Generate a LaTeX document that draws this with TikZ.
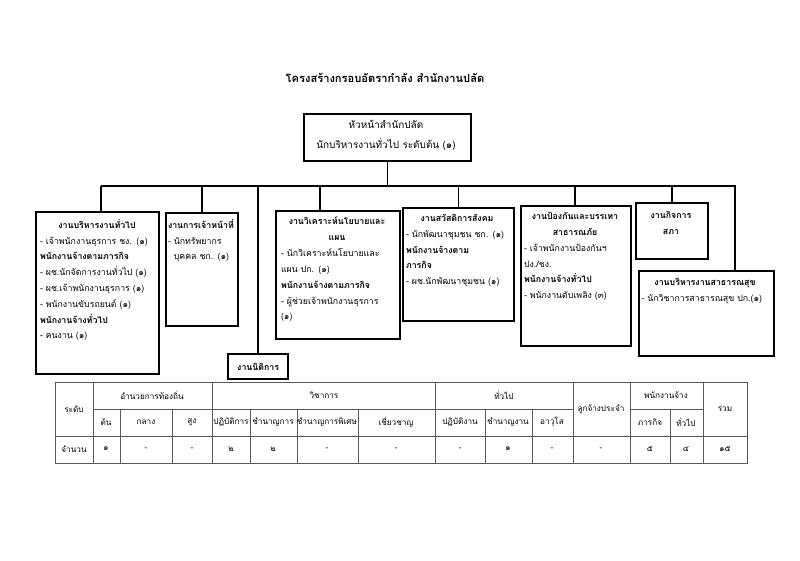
\documentclass[tikz,border=0pt]{standalone}
\usepackage{fontspec}
\setmainfont[Script=Thai]{Loma}
\usetikzlibrary{positioning}
\newcommand{\ttl}[1]{\makebox[\linewidth][c]{\textbf{#1}}}
\tikzset{
  unit/.style={draw,line width=2pt,anchor=north west,inner sep=0pt},
  txt/.style={anchor=north,align=left,font=\fontsize{7.5}{13.5}\selectfont,inner sep=0pt},
  link/.style={line width=1.4pt},
  cell/.style={font=\fontsize{7}{9}\selectfont,inner sep=0pt}
}
\begin{document}
\begin{tikzpicture}[x=0.03cm,y=-0.03cm]
\useasboundingbox (0,0) rectangle (800,561);
\node[font=\fontsize{9.5}{12}\selectfont\bfseries] (title) at (385,78) {โครงสร้างกรอบอัตรากำลัง สำนักงานปลัด};
% head
\node[unit,minimum width=167*0.03cm,minimum height=47*0.03cm] (head) at (303,113) {};
\node[txt,align=center,font=\fontsize{8.5}{17}\selectfont] at (386,120) {หัวหน้าสำนักปลัด\\นักบริหารงานทั่วไป ระดับต้น (๑)};
% units
\node[unit,minimum width=123*0.03cm,minimum height=162*0.03cm] (b1) at (35,211) {};
\node[txt,text width=114*0.03cm] at (97,219) {\ttl{งานบริหารงานทั่วไป}\\- เจ้าพนักงานธุรการ ชง. (๑)\\ \textbf{พนักงานจ้างตามภารกิจ}\\- ผช.นักจัดการงานทั่วไป (๑)\\- ผช.เจ้าพนักงานธุรการ (๑)\\- พนักงานขับรถยนต์ (๑)\\ \textbf{พนักงานจ้างทั่วไป}\\- คนงาน (๑)};
\node[unit,minimum width=72*0.03cm,minimum height=113*0.03cm] (b2) at (165,212) {};
\node[txt,text width=66*0.03cm] at (201,219) {\textbf{งานการเจ้าหน้าที่}\\- นักทรัพยากร\\\ \ บุคคล ชก. (๑)};
\node[unit,minimum width=60*0.03cm,minimum height=25*0.03cm] (law) at (227,353) {};
\node[cell,font=\fontsize{7.5}{9}\selectfont\bfseries] at (law.center) {งานนิติการ};
\node[unit,minimum width=124*0.03cm,minimum height=128*0.03cm] (b3) at (275,210) {};
\node[txt,text width=112*0.03cm] at (337,217) {\ttl{งานวิเคราะห์นโยบายและ}\\\ttl{แผน}\\- นักวิเคราะห์นโยบายและ\\แผน ปก. (๑)\\\textbf{พนักงานจ้างตามภารกิจ}\\- ผู้ช่วยเจ้าพนักงานธุรการ\\(๑)};
\node[unit,minimum width=111*0.03cm,minimum height=113*0.03cm] (b4) at (402,207) {};
\node[txt,text width=102*0.03cm] at (457,214) {\ttl{งานสวัสดิการสังคม}\\- นักพัฒนาชุมชน ชก. (๑)\\\textbf{พนักงานจ้างตาม}\\\textbf{ภารกิจ}\\- ผช.นักพัฒนาชุมชน (๑)};
\node[unit,minimum width=110*0.03cm,minimum height=140*0.03cm] (b5) at (520,205) {};
\node[txt,text width=102*0.03cm] at (575,212) {\ttl{งานป้องกันและบรรเทา}\\\ttl{สาธารณภัย}\\- เจ้าพนักงานป้องกันฯ\\ปง./ชง.\\\textbf{พนักงานจ้างทั่วไป}\\- พนักงานดับเพลิง (๓)};
\node[unit,minimum width=72*0.03cm,minimum height=56*0.03cm] (b6) at (635,202) {};
\node[txt,align=center] at (671,211) {\textbf{งานกิจการ}\\\textbf{สภา}};
\node[unit,minimum width=135*0.03cm,minimum height=85*0.03cm] (b7) at (638,270) {};
\node[txt,text width=127*0.03cm] at (705,278) {\ttl{งานบริหารงานสาธารณสุข}\\- นักวิชาการสาธารณสุข ปก.(๑)};
% links
\coordinate (busL) at (101,186);
\coordinate (busR) at (735,186);
\draw[link] (head.south) -- (head.south |- busL);
\draw[link] (busL) -- (busR) -- (b7.north -| busR);
\draw[link] (busL) -- (b1.north -| busL);
\foreach \n in {b2,b4,b6} \draw[link] (\n.north) -- (\n.north |- busL);
\draw[link] (258,186) -- (law.north -| 258,0);
\draw[link] (320,186) -- (b3.north -| 320,0);
\draw[link] (575,186) -- (b5.north -| 575,0);
% table
\begin{scope}[gray!70!black,line width=0.5pt]
\draw (55,382) rectangle (747,463);
\draw (55,436) -- (747,436);
\draw (93,409) -- (573,409) (630,409) -- (703,409);
\foreach \c in {93,212,435,573,630,703} \draw (\c,382) -- (\c,463);
\foreach \c in {120,172,250,297,358,485,532,670} \draw (\c,409) -- (\c,463);
\end{scope}
\node[cell] at (74,409) {ระดับ};
\node[cell] at (152,395) {อำนวยการท้องถิ่น};
\node[cell] at (324,395) {วิชาการ};
\node[cell] at (504,395) {ทั่วไป};
\node[cell] at (601,409) {ลูกจ้างประจำ};
\node[cell] at (666,395) {พนักงานจ้าง};
\node[cell] at (725,409) {รวม};
\foreach \x/\t in {106/ต้น,146/กลาง,192/สูง,231/ปฏิบัติการ,273/ชำนาญการ,327/ชำนาญการพิเศษ,396/เชี่ยวชาญ,460/ปฏิบัติงาน,508/ชำนาญงาน,552/อาวุโส,650/ภารกิจ,686/ทั่วไป}
  \node[cell] at (\x,422) {\t};
\foreach \x/\t in {74/จำนวน,106/๑,146/-,192/-,231/๒,273/๒,327/-,396/-,460/-,508/๑,552/-,601/-,650/๕,686/๔,725/๑๕}
  \node[cell] at (\x,449) {\t};
\end{tikzpicture}
\end{document}
